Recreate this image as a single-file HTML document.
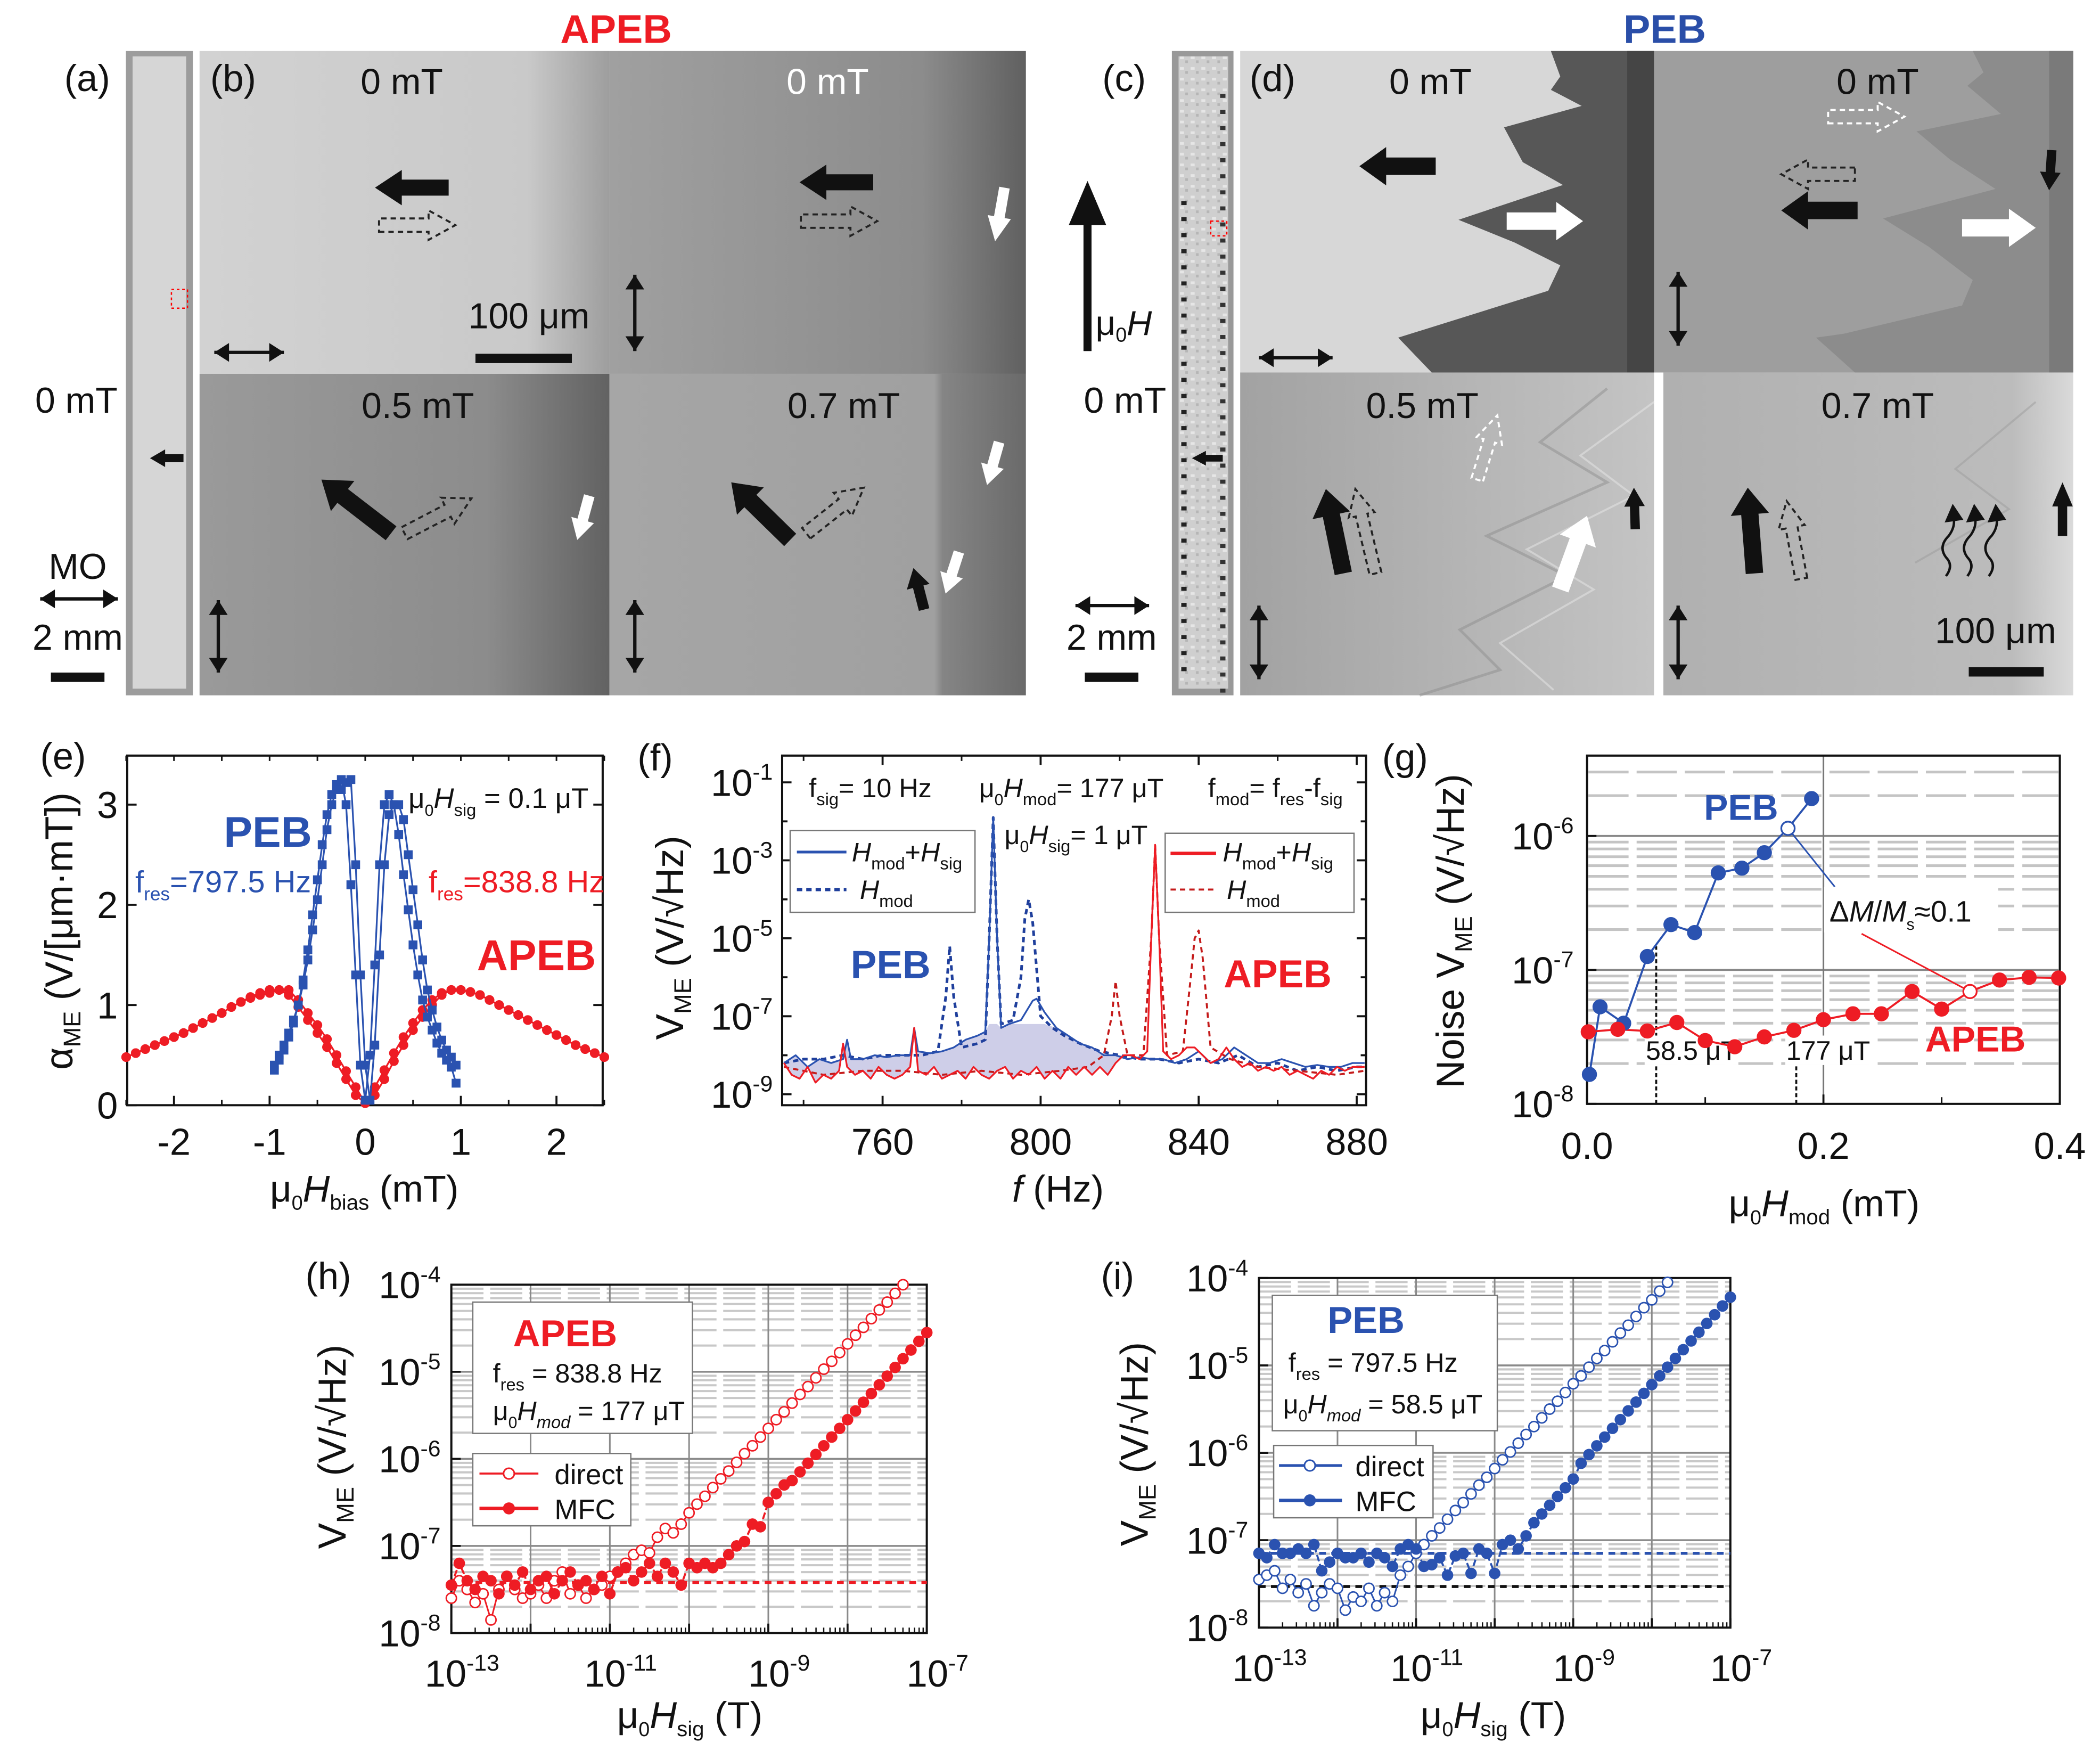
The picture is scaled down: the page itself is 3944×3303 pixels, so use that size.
<!DOCTYPE html>
<html><head><meta charset="utf-8"><style>
html,body{margin:0;padding:0;background:#fff;}
svg{display:block;}
text{font-family:"Liberation Sans",Arial,sans-serif;}
</style></head><body>
<svg id="fig" xmlns="http://www.w3.org/2000/svg" width="3944" height="3303" viewBox="0 0 1568 1313">
<defs>
<linearGradient id="gbTL" x1="0" x2="1"><stop offset="0" stop-color="#d2d2d2"/><stop offset="0.8" stop-color="#c9c9c9"/><stop offset="1" stop-color="#9e9e9e"/></linearGradient>
<linearGradient id="gbTR" x1="0" x2="1"><stop offset="0" stop-color="#a0a0a0"/><stop offset="0.75" stop-color="#8c8c8c"/><stop offset="1" stop-color="#606060"/></linearGradient>
<linearGradient id="gbBL" x1="0" x2="1"><stop offset="0" stop-color="#9a9a9a"/><stop offset="0.7" stop-color="#8c8c8c"/><stop offset="1" stop-color="#626262"/></linearGradient>
<linearGradient id="gbBR" x1="0" x2="1"><stop offset="0" stop-color="#a6a6a6"/><stop offset="0.78" stop-color="#a0a0a0"/><stop offset="0.8" stop-color="#858585"/><stop offset="1" stop-color="#6a6a6a"/></linearGradient>
<linearGradient id="gdBL" x1="0" x2="1"><stop offset="0" stop-color="#a2a2a2"/><stop offset="1" stop-color="#c4c4c4"/></linearGradient>
<linearGradient id="gdBR" x1="0" x2="1"><stop offset="0" stop-color="#b0b0b0"/><stop offset="0.85" stop-color="#bcbcbc"/><stop offset="1" stop-color="#dadada"/></linearGradient>
<pattern id="speck" width="8" height="8" patternUnits="userSpaceOnUse"><rect width="8" height="8" fill="#cfcfcf"/><rect x="1" y="2" width="3" height="2" fill="#e6e6e6"/><rect x="5" y="5" width="2" height="2" fill="#b5b5b5"/></pattern>
</defs>
<g id="top"></g>
<g id="plots"></g>
</svg>
<script>
const NS='http://www.w3.org/2000/svg';
const TOP=document.getElementById('top');
const PL=document.getElementById('plots');
function mk(tag,attrs,parent){const e=document.createElementNS(NS,tag);for(const k in attrs)e.setAttribute(k,attrs[k]);(parent||PL).appendChild(e);return e;}
function tx(x,y,html,size,opts,parent){const o=Object.assign({x:x,y:y,'font-size':size,fill:'#111'},opts||{});const e=mk('text',o,parent);e.innerHTML=html;return e;}

/* ================= DATA ================= */
const eBlueX=[-0.95,-0.9,-0.85,-0.8,-0.75,-0.7,-0.65,-0.6,-0.55,-0.5,-0.45,-0.4,-0.35,-0.3,-0.25,-0.2,-0.15,-0.1,-0.05,0,0.05,0.1,0.15,0.2,0.25,0.3,0.35,0.4,0.45,0.5,0.55,0.6,0.65,0.7,0.75,0.8,0.85,0.9,0.95];
const eBlue1=[0.35,0.45,0.55,0.68,0.82,1.0,1.25,1.55,1.9,2.25,2.6,2.9,3.1,3.2,3.25,3.0,2.2,1.3,0.4,0.05,0.5,1.4,2.4,3.0,3.1,3.0,2.7,2.3,1.95,1.6,1.3,1.05,0.88,0.75,0.62,0.52,0.45,0.38,0.22];
const eBlue2=[0.4,0.5,0.6,0.72,0.85,1.0,1.2,1.45,1.75,2.05,2.4,2.75,3.0,3.15,3.15,3.22,3.25,2.4,1.3,0.4,0.05,0.6,1.5,2.4,2.9,3.0,3.0,2.85,2.5,2.15,1.8,1.45,1.15,0.95,0.78,0.65,0.55,0.48,0.4];
const eRedX=[-2.5,-2.4,-2.3,-2.2,-2.1,-2.0,-1.9,-1.8,-1.7,-1.6,-1.5,-1.4,-1.3,-1.2,-1.1,-1.0,-0.9,-0.8,-0.7,-0.6,-0.5,-0.4,-0.3,-0.2,-0.1,0,0.1,0.2,0.3,0.4,0.5,0.6,0.7,0.8,0.9,1.0,1.1,1.2,1.3,1.4,1.5,1.6,1.7,1.8,1.9,2.0,2.1,2.2,2.3,2.4,2.5];
const eRed1=[0.48,0.52,0.56,0.6,0.64,0.68,0.72,0.77,0.82,0.87,0.92,0.98,1.03,1.08,1.12,1.15,1.15,1.1,0.98,0.85,0.72,0.58,0.42,0.26,0.1,0.02,0.18,0.35,0.52,0.68,0.82,0.95,1.05,1.12,1.15,1.15,1.13,1.1,1.05,1.0,0.95,0.9,0.85,0.8,0.75,0.7,0.65,0.6,0.56,0.52,0.48];
const eRed2=[0.48,0.52,0.56,0.6,0.64,0.68,0.72,0.77,0.82,0.87,0.92,0.98,1.03,1.07,1.1,1.12,1.15,1.15,1.05,0.92,0.8,0.66,0.5,0.34,0.18,0.02,0.1,0.26,0.44,0.6,0.75,0.88,1.0,1.1,1.15,1.15,1.13,1.1,1.05,1.0,0.95,0.9,0.85,0.8,0.75,0.7,0.65,0.6,0.56,0.52,0.48];
const eXTicks=[-2,-1,0,1,2];
const eYTicks=[0,1,2,3];

const fBSfreq=[735,738,741,744,747,750,751,752,755,758,761,764,767,768,769,772,775,778,781,784,786,787,788,789,790,792,795,798,799,801,804,807,810,813,816,819,822,825,828,831,834,837,840,843,846,849,852,855,858,861,864,867,870,873,876,879,882];
const fBSval=[-8.2,-8.0,-8.3,-8.1,-8.2,-8.1,-7.6,-8.1,-8.1,-8.0,-8.05,-8.0,-8.0,-7.3,-7.9,-7.95,-7.9,-7.8,-7.6,-7.5,-7.4,-5.0,-1.9,-5.0,-7.3,-7.2,-7.1,-6.6,-6.55,-6.9,-7.3,-7.5,-7.7,-7.8,-8.0,-8.0,-8.1,-8.05,-8.1,-8.1,-8.2,-8.1,-7.9,-8.2,-8.1,-7.8,-8.0,-8.2,-8.2,-8.1,-8.2,-8.3,-8.25,-8.3,-8.3,-8.2,-8.2];
const fBDfreq=[735,740,745,750,755,760,765,770,774,776,777,778,780,784,786,787,788,789,790,793,795,796,797,798,800,803,806,810,815,820,825,830,835,840,845,850,855,860,865,870,875,880,882];
const fBDval=[-8.2,-8.1,-8.1,-8.0,-8.1,-8.0,-8.0,-8.0,-7.9,-6.5,-5.2,-6.5,-7.8,-7.7,-7.6,-5.0,-1.9,-5.0,-7.2,-7.1,-6.0,-4.5,-4.0,-4.6,-7.0,-7.3,-7.5,-7.7,-7.9,-8.0,-8.1,-8.1,-8.2,-8.1,-8.2,-8.0,-8.3,-8.2,-8.4,-8.3,-8.4,-8.3,-8.3];
const fRSfreq=[735,737,739,741,743,745,747,749,750,751,753,755,757,759,761,763,765,767,768,769,771,773,775,777,779,781,783,785,787,789,791,793,795,797,799,801,803,805,807,809,811,813,815,817,819,821,823,825,827,828,829,830,831,833,835,837,839,841,843,845,847,849,851,853,855,857,859,861,863,865,867,869,871,873,875,877,879,882];
const fRSval=[-8.2,-8.5,-8.6,-8.3,-8.7,-8.5,-8.6,-8.4,-7.7,-8.3,-8.5,-8.4,-8.6,-8.3,-8.5,-8.6,-8.5,-8.3,-7.3,-8.4,-8.5,-8.3,-8.6,-8.5,-8.4,-8.6,-8.3,-8.5,-8.6,-8.4,-8.3,-8.6,-8.4,-8.5,-8.3,-8.6,-8.4,-8.6,-8.3,-8.5,-8.3,-8.5,-8.3,-8.5,-8.2,-8.0,-8.0,-8.1,-7.9,-5.0,-2.6,-5.0,-7.9,-8.1,-8.0,-7.8,-7.8,-8.0,-8.2,-8.1,-7.8,-8.1,-8.3,-8.2,-8.4,-8.3,-8.4,-8.3,-8.5,-8.4,-8.5,-8.6,-8.4,-8.5,-8.3,-8.4,-8.3,-8.3];
const fRDfreq=[735,745,755,765,775,785,795,805,812,816,818,819,820,822,826,828,829,830,832,836,838,839,840,841,843,848,855,865,875,882];
const fRDval=[-8.3,-8.5,-8.4,-8.4,-8.5,-8.4,-8.5,-8.4,-8.3,-8.0,-7.0,-6.1,-7.0,-8.0,-8.0,-5.0,-2.6,-5.0,-8.0,-7.9,-6.0,-5.0,-4.8,-5.5,-7.8,-8.1,-8.3,-8.4,-8.5,-8.4];
const fXTicks=[760,800,840,880];
const fYTicks=[-1,-3,-5,-7,-9];

const gPebX=[0.002,0.011,0.031,0.051,0.071,0.091,0.111,0.131,0.150,0.170,0.190];
const gPebV=[1.66e-8,5.3e-8,4.0e-8,1.26e-7,2.18e-7,1.9e-7,5.3e-7,5.75e-7,7.5e-7,1.14e-6,1.9e-6];
const gApebX=[0.001,0.026,0.051,0.076,0.1,0.125,0.15,0.175,0.2,0.225,0.249,0.275,0.3,0.324,0.349,0.374,0.399];
const gApebV=[3.45e-8,3.6e-8,3.5e-8,4.05e-8,2.97e-8,2.67e-8,3.16e-8,3.54e-8,4.25e-8,4.7e-8,4.7e-8,6.9e-8,5.1e-8,6.9e-8,8.4e-8,8.8e-8,8.7e-8];
const gXTicks=[0.0,0.2,0.4];
const gYTicks=[-8,-7,-6];

const hDirX=[-13,-12.9,-12.8,-12.7,-12.6,-12.5,-12.4,-12.3,-12.2,-12.1,-12,-11.9,-11.8,-11.7,-11.6,-11.5,-11.4,-11.3,-11.2,-11.1,-11,-10.9,-10.8,-10.7,-10.6,-10.5,-10.4,-10.3,-10.2,-10.1,-10,-9.9,-9.8,-9.7,-9.6,-9.5,-9.4,-9.3,-9.2,-9.1,-9,-8.9,-8.8,-8.7,-8.6,-8.5,-8.4,-8.3,-8.2,-8.1,-8,-7.9,-7.8,-7.7,-7.6,-7.5,-7.4,-7.3];
const hDirV=[-7.6,-7.4,-7.5,-7.65,-7.55,-7.85,-7.5,-7.35,-7.5,-7.6,-7.55,-7.45,-7.6,-7.4,-7.3,-7.55,-7.45,-7.6,-7.5,-7.45,-7.35,-7.3,-7.2,-7.1,-7.05,-7.08,-6.9,-6.8,-6.85,-6.75,-6.62,-6.52,-6.43,-6.33,-6.23,-6.14,-6.04,-5.94,-5.85,-5.75,-5.65,-5.55,-5.46,-5.36,-5.26,-5.17,-5.07,-4.97,-4.88,-4.78,-4.68,-4.58,-4.49,-4.39,-4.29,-4.2,-4.1,-4.0];
const hMfcX=[-13,-12.9,-12.8,-12.7,-12.6,-12.5,-12.4,-12.3,-12.2,-12.1,-12,-11.9,-11.8,-11.7,-11.6,-11.5,-11.4,-11.3,-11.2,-11.1,-11,-10.9,-10.8,-10.7,-10.6,-10.5,-10.4,-10.3,-10.2,-10.1,-10,-9.9,-9.8,-9.7,-9.6,-9.5,-9.4,-9.3,-9.2,-9.1,-9,-8.9,-8.8,-8.7,-8.6,-8.5,-8.4,-8.3,-8.2,-8.1,-8,-7.9,-7.8,-7.7,-7.6,-7.5,-7.4,-7.3,-7.2,-7.1,-7];
const hMfcV=[-7.45,-7.2,-7.4,-7.5,-7.35,-7.4,-7.55,-7.35,-7.45,-7.3,-7.5,-7.4,-7.35,-7.55,-7.4,-7.3,-7.45,-7.4,-7.5,-7.35,-7.55,-7.3,-7.25,-7.4,-7.3,-7.2,-7.35,-7.2,-7.3,-7.45,-7.2,-7.25,-7.2,-7.25,-7.2,-7.1,-7.0,-6.95,-6.75,-6.78,-6.5,-6.4,-6.3,-6.25,-6.15,-6.05,-5.95,-5.85,-5.75,-5.65,-5.55,-5.45,-5.35,-5.25,-5.15,-5.05,-4.95,-4.85,-4.75,-4.65,-4.55];
const hNoise=-7.42;

const iDirX=[-13,-12.9,-12.8,-12.7,-12.6,-12.5,-12.4,-12.3,-12.2,-12.1,-12,-11.9,-11.8,-11.7,-11.6,-11.5,-11.4,-11.3,-11.2,-11.1,-11,-10.9,-10.8,-10.7,-10.6,-10.5,-10.4,-10.3,-10.2,-10.1,-10,-9.9,-9.8,-9.7,-9.6,-9.5,-9.4,-9.3,-9.2,-9.1,-9,-8.9,-8.8,-8.7,-8.6,-8.5,-8.4,-8.3,-8.2,-8.1,-8,-7.9,-7.8];
const iDirV=[-7.45,-7.4,-7.35,-7.55,-7.45,-7.6,-7.5,-7.75,-7.6,-7.5,-7.55,-7.8,-7.65,-7.7,-7.55,-7.75,-7.6,-7.7,-7.4,-7.3,-7.15,-7.05,-6.95,-6.86,-6.76,-6.66,-6.57,-6.47,-6.37,-6.28,-6.18,-6.08,-5.99,-5.89,-5.79,-5.7,-5.6,-5.5,-5.41,-5.31,-5.21,-5.12,-5.02,-4.92,-4.83,-4.73,-4.63,-4.54,-4.44,-4.34,-4.25,-4.15,-4.05];
const iMfcX=[-13,-12.9,-12.8,-12.7,-12.6,-12.5,-12.4,-12.3,-12.2,-12.1,-12,-11.9,-11.8,-11.7,-11.6,-11.5,-11.4,-11.3,-11.2,-11.1,-11,-10.9,-10.8,-10.7,-10.6,-10.5,-10.4,-10.3,-10.2,-10.1,-10,-9.9,-9.8,-9.7,-9.6,-9.5,-9.4,-9.3,-9.2,-9.1,-9,-8.9,-8.8,-8.7,-8.6,-8.5,-8.4,-8.3,-8.2,-8.1,-8,-7.9,-7.8,-7.7,-7.6,-7.5,-7.4,-7.3,-7.2,-7.1,-7];
const iMfcV=[-7.15,-7.2,-7.05,-7.15,-7.15,-7.1,-7.15,-7.05,-7.35,-7.25,-7.15,-7.2,-7.2,-7.15,-7.25,-7.15,-7.2,-7.3,-7.1,-7.05,-7.1,-7.3,-7.28,-7.2,-7.4,-7.18,-7.15,-7.38,-7.1,-7.15,-7.38,-7.05,-7.0,-7.1,-6.95,-6.8,-6.7,-6.6,-6.5,-6.4,-6.3,-6.12,-6.02,-5.92,-5.82,-5.72,-5.62,-5.52,-5.42,-5.32,-5.22,-5.12,-5.02,-4.92,-4.82,-4.72,-4.62,-4.52,-4.42,-4.32,-4.22];
const iNoiseBlue=-7.15;
const iNoiseBlack=-7.53;
const logXTicks=[-13,-11,-9,-7];
const logYTicks=[-8,-7,-6,-5,-4];

const xE=v=>272.7+v*71.4, yE=v=>825-v*74.8;
const xF=f=>659+(f-760)*2.95, yF=l=>584-(l+1)*29.1;
const xG=v=>1185+v*882.5, yG=v=>824-(Math.log10(v)+8)*100;
const xH=l=>337+(l+13)*59.17, yH=l=>1219-(l+8)*65;
const xI=l=>940+(l+13)*58.67, yI=l=>1215-(l+8)*65.25;

/* ================= TOP IMAGE PANELS ================= */
(function(){
let el;
function rect(x,y,w,h,fill,name){const r=mk('rect',{x:x,y:y,width:w,height:h,fill:fill},TOP);return r;}
el=tx(460,32,'APEB',30,{fill:'#ee1c24','font-weight':'bold','text-anchor':'middle'},TOP);


el=tx(1243,32,'PEB',30,{fill:'#2a4ea8','font-weight':'bold','text-anchor':'middle'},TOP);


rect(94,38,50,481,'#9c9c9c','mo-strip-a-frame');
rect(99,42,40,472,'#d6d6d6','mo-strip-a');
rect(875,38,46,481,'#999','mo-strip-c-frame');
rect(880,42,37,472,'url(#speck)','mo-strip-c');
for(let k=0;k<30;k++){const d=mk('rect',{x:882,y:150+k*12,width:4,height:3,fill:'#222'},TOP);}
for(let k=0;k<38;k++){const d=mk('rect',{x:911,y:70+k*12,width:4,height:3,fill:'#333'},TOP);}
el=mk('rect',{x:128,y:216,width:12,height:14,fill:'none',stroke:'red','stroke-dasharray':'2 2','stroke-width':1},TOP);


el=mk('rect',{x:904,y:165,width:12,height:11,fill:'none',stroke:'red','stroke-dasharray':'2 2','stroke-width':1},TOP);


rect(149,38,306,241,'url(#gbTL)','image-b-0mT-left');
rect(455,38,311,241,'url(#gbTR)','image-b-0mT-right');
rect(149,279,306,240,'url(#gbBL)','image-b-05mT');
rect(455,279,311,240,'url(#gbBR)','image-b-07mT');
rect(926,38,309,240,'#d7d7d7','image-d-0mT-left');
el=mk('polygon',{points:'1158,38 1165,57 1158,67 1181,79 1123,95 1137,121 1167,138 1089,164 1131,181 1165,198 1156,217 1044,252 1069,278 1235,278 1235,38',fill:'#575757'},TOP);


rect(1215,38,20,240,'#454545','dark-edge-band');
rect(1235,38,313,240,'#9e9e9e','image-d-0mT-right');
el=mk('polygon',{points:'1473,38 1481,54 1469,64 1494,85 1431,98 1456,119 1490,141 1406,163 1440,184 1473,209 1465,228 1377,249 1356,252 1385,278 1548,278 1548,38',fill:'#8c8c8c'},TOP);


rect(1530,38,18,240,'#7a7a7a','edge-band-right');
rect(926,278,309,241,'url(#gdBL)','image-d-05mT');
rect(1242,278,306,241,'url(#gdBR)','image-d-07mT');
el=mk('polyline',{points:'1200,290 1150,330 1200,360 1110,400 1170,430 1090,470 1120,500 1060,519',fill:'none',stroke:'#8a8a8a','stroke-width':2,opacity:0.45},TOP);


el=mk('polyline',{points:'1235,300 1180,340 1220,370 1140,410 1190,440 1120,480 1160,515',fill:'none',stroke:'#e8e8e8','stroke-width':1.5,opacity:0.5},TOP);


el=mk('polyline',{points:'1520,300 1460,350 1500,380 1430,420',fill:'none',stroke:'#9c9c9c','stroke-width':1.5,opacity:0.5},TOP);



const lbls=[['(a)',48,68,'#111','label-a'],['(b)',157,68,'#111','label-b'],['(c)',823,68,'#111','label-c'],['(d)',933,68,'#111','label-d']];
for(const L of lbls){el=tx(L[1],L[2],L[0],28,{fill:L[3]},TOP);}
const fl=[['0 mT',300,70,'#111'],['0 mT',618,70,'#fff'],['0.5 mT',312,312,'#111'],['0.7 mT',630,312,'#111'],['0 mT',1068,70,'#111'],['0 mT',1402,70,'#111'],['0.5 mT',1062,312,'#111'],['0.7 mT',1402,312,'#111'],['0 mT',57,308,'#111'],['0 mT',840,308,'#111']];
for(const L of fl){el=tx(L[1],L[2],L[0],27,{fill:L[3],'text-anchor':'middle'},TOP);}
el=tx(58,432,'MO',27,{'text-anchor':'middle'},TOP);
el=tx(58,485,'2 mm',27,{'text-anchor':'middle'},TOP);
el=tx(830,485,'2 mm',27,{'text-anchor':'middle'},TOP);
el=tx(395,245,'100 μm',27,{'text-anchor':'middle'},TOP);
el=tx(1490,480,'100 μm',27,{'text-anchor':'middle'},TOP);
el=tx(818,250,'μ<tspan font-size="15" dy="5">0</tspan><tspan dy="-5" font-style="italic">H</tspan>',26,{},TOP);
const bars=[[38,502,40],[355,264,72],[810,502,40],[1470,498,56]];
for(const b of bars){el=mk('rect',{x:b[0],y:b[1],width:b[2],height:7,fill:'#111'},TOP);}

function blockArrow(x1,y1,x2,y2,w,fill,stroke,name){
  const dx=x2-x1,dy=y2-y1,L=Math.hypot(dx,dy),ux=dx/L,uy=dy/L,nx=-uy,ny=ux;const hl=Math.min(L*0.45,20),hw=w*1.1;
  const bx=x2-ux*hl,by=y2-uy*hl;
  const p=[[x1+nx*w/2,y1+ny*w/2],[bx+nx*w/2,by+ny*w/2],[bx+nx*hw,by+ny*hw],[x2,y2],[bx-nx*hw,by-ny*hw],[bx-nx*w/2,by-ny*w/2],[x1-nx*w/2,y1-ny*w/2]];
  const a={points:p.map(q=>q[0].toFixed(1)+','+q[1].toFixed(1)).join(' ')};
  if(stroke){a.fill='none';a.stroke=stroke;a['stroke-dasharray']='4 3';a['stroke-width']=1.5;}else{a.fill=fill;}
  const e=mk('polygon',a,TOP);return e;}
function dbl(x1,y1,x2,y2,name){
  const e=mk('line',{x1:x1,y1:y1,x2:x2,y2:y2,stroke:'#111','stroke-width':2.5},TOP);
  const dx=x2-x1,dy=y2-y1,L=Math.hypot(dx,dy),ux=dx/L,uy=dy/L,nx=-uy,ny=ux;
  for(const [px,py,s] of [[x2,y2,1],[x1,y1,-1]]){const bx=px-s*ux*11,by=py-s*uy*11;const h=mk('polygon',{points:`${px},${py} ${bx+nx*7},${by+ny*7} ${bx-nx*7},${by-ny*7}`,fill:'#111'},TOP);}
}
blockArrow(335,140,280,140,12,'#111',null,'magnetization-arrow');
blockArrow(283,168,340,168,10,null,'#222','dashed-arrow');
blockArrow(652,136,597,136,12,'#111',null,'magnetization-arrow');
blockArrow(598,165,655,165,10,null,'#222','dashed-arrow');
blockArrow(750,140,743,180,8,'#fff',null,'white-arrow');
blockArrow(292,398,240,358,13,'#111',null,'magnetization-arrow');
blockArrow(302,398,352,372,10,null,'#222','dashed-arrow');
blockArrow(440,370,431,403,8,'#fff',null,'white-arrow');
blockArrow(590,403,546,360,13,'#111',null,'magnetization-arrow');
blockArrow(602,398,645,364,10,null,'#222','dashed-arrow');
blockArrow(746,330,737,362,8,'#fff',null,'white-arrow');
blockArrow(716,412,706,443,8,'#fff',null,'white-arrow');
blockArrow(690,455,682,424,8,'#111',null,'magnetization-arrow');
blockArrow(137,342,112,342,6,'#111',null,'strip-arrow');
blockArrow(913,342,890,342,5,'#111',null,'strip-arrow');
blockArrow(1072,124,1015,124,13,'#111',null,'magnetization-arrow');
blockArrow(1125,165,1182,165,13,'#fff',null,'white-arrow');
blockArrow(1365,87,1422,87,10,null,'#fff','dashed-arrow-white');
blockArrow(1385,130,1330,130,10,null,'#222','dashed-arrow');
blockArrow(1387,157,1330,157,13,'#111',null,'magnetization-arrow');
blockArrow(1532,112,1530,142,7,'#111',null,'small-arrow');
blockArrow(1465,170,1520,170,13,'#fff',null,'white-arrow');
blockArrow(1003,428,990,365,13,'#111',null,'magnetization-arrow');
blockArrow(1027,428,1012,365,9,null,'#222','dashed-arrow');
blockArrow(1103,358,1118,310,9,null,'#fff','dashed-arrow-white');
blockArrow(1165,440,1185,385,13,'#fff',null,'white-arrow');
blockArrow(1221,395,1220,364,7,'#111',null,'small-arrow');
blockArrow(1310,428,1305,364,13,'#111',null,'magnetization-arrow');
blockArrow(1345,432,1334,374,9,null,'#222','dashed-arrow');
blockArrow(1540,400,1540,360,7,'#111',null,'small-arrow');
for(const dx of [0,16,32]){el=mk('path',{d:`M${1453+dx},${430} q6,-8 0,-14 q-6,-8 2,-16 q6,-8 3,-16`,fill:'none',stroke:'#111','stroke-width':1.8},TOP);
 const h=mk('polygon',{points:`${1458+dx},${376} ${1452+dx},${390} ${1466+dx},${388}`,fill:'#111'},TOP);}
el=mk('line',{x1:812,y1:262,x2:812,y2:165,stroke:'#111','stroke-width':6},TOP);
el=mk('polygon',{points:'812,135 798,168 826,168',fill:'#111'},TOP);
dbl(160,263,212,263,'polarizer-arrow');
dbl(474,205,474,262,'polarizer-arrow');
dbl(163,448,163,502,'polarizer-arrow');
dbl(474,448,474,502,'polarizer-arrow');
dbl(940,267,995,267,'polarizer-arrow');
dbl(1253,203,1253,258,'polarizer-arrow');
dbl(940,452,940,507,'polarizer-arrow');
dbl(1253,452,1253,507,'polarizer-arrow');
dbl(30,447,88,447,'polarizer-arrow');
dbl(803,452,858,452,'polarizer-arrow');
})();

function frame(x1,y1,x2,y2,name){const e=mk('rect',{x:x1,y:y1,width:x2-x1,height:y2-y1,fill:'none',stroke:'#111','stroke-width':1.6});}
function line(x1,y1,x2,y2,st,w,dash,name){const a={x1:x1,y1:y1,x2:x2,y2:y2,stroke:st,'stroke-width':w};if(dash)a['stroke-dasharray']=dash;const e=mk('line',a);return e;}
function poly(pts,st,w,dash,name){const a={points:pts.map(p=>p[0].toFixed(1)+','+p[1].toFixed(1)).join(' '),fill:'none',stroke:st,'stroke-width':w,'stroke-linejoin':'round'};if(dash)a['stroke-dasharray']=dash;const e=mk('polyline',a);return e;}
function pow10(x,y,exp,size,anchor,name){const e=tx(x,y,'10<tspan dy="-'+(size*0.42).toFixed(0)+'" font-size="'+(size*0.62).toFixed(0)+'">'+exp+'</tspan>',size,{'text-anchor':anchor||'end'});return e;}
function label(x,y,html,size,opts,name){const e=tx(x,y,html,size,opts);return e;}
const SUB=(t,s)=>'<tspan dy="6" font-size="'+(s||16)+'">'+t+'</tspan><tspan dy="-6">\u200b</tspan>';

/* ================= (e) ================= */
(function(){
frame(95,564,450,825,'plot-e-frame');
for(const t of eXTicks){line(xE(t),825,xE(t),818,'#111',1.5,null,'x-tick');label(xE(t),862,(t<0?'-':'')+Math.abs(t),28,{'text-anchor':'middle'},'x-tick-label');}
for(let t=-2.5;t<=2.5;t+=0.5){line(xE(t),825,xE(t),821,'#111',1.2,null,'x-minor-tick');line(xE(t),564,xE(t),568,'#111',1.2,null,'x-minor-tick-top');}
for(const t of eYTicks){line(95,yE(t),102,yE(t),'#111',1.5,null,'y-tick');line(450,yE(t),443,yE(t),'#111',1.5,null,'y-tick-right');label(88,yE(t)+10,String(t),28,{'text-anchor':'end'},'y-tick-label');}
label(30,574,'(e)',28,{},'label-e');
label(54,695,'α'+SUB('ME',18)+' (V/[μm·mT])',29,{'text-anchor':'middle',transform:'rotate(-90 54 695)'},'y-axis-title-e');
label(272,897,'μ'+SUB('0',15)+'<tspan font-style="italic">H</tspan>'+SUB('bias',16)+' (mT)',28,{'text-anchor':'middle'},'x-axis-title-e');
const sets=[[eRedX,eRed1,'#ee1c24','red'],[eRedX,eRed2,'#ee1c24','red'],[eBlueX,eBlue1,'#2a52b0','blue'],[eBlueX,eBlue2,'#2a52b0','blue']];
sets.forEach((s,k)=>{
 poly(s[0].map((x,i)=>[xE(x),yE(s[1][i])]),s[2],1.3,null,'series-e-'+s[3]+'-'+k);
 s[0].forEach((x,i)=>{let m;
  if(s[3]==='red'){m=mk('circle',{cx:xE(x),cy:yE(s[1][i]),r:3.6,fill:s[2]});}
  else{m=mk('rect',{x:xE(x)-3.3,y:yE(s[1][i])-3.3,width:6.6,height:6.6,fill:s[2]});}
  
  
 });
});
label(200,632,'PEB',32,{fill:'#2a52b0','font-weight':'bold','text-anchor':'middle'},'peb-label-e');
label(101,666,'f'+SUB('res',14)+'=797.5 Hz',23,{fill:'#2a52b0'},'fres-peb-label');
label(320,666,'f'+SUB('res',14)+'=838.8 Hz',23,{fill:'#ee1c24'},'fres-apeb-label');
label(445,724,'APEB',32,{fill:'#ee1c24','font-weight':'bold','text-anchor':'end'},'apeb-label-e');
label(305,603,'μ'+SUB('0',12)+'<tspan font-style="italic">H</tspan>'+SUB('sig',13)+' = 0.1 μT',21,{},'hsig-label-e');
})();

/* ================= (f) ================= */
(function(){
label(476,575,'(f)',28,{},'label-f');
const top=fBSfreq.filter(f=>f<=821).map((f,i)=>[xF(f),yF(Math.min(fBSval[i],-7.2))]);
const bot=fRSfreq.filter(f=>f<=821).map((f,i)=>[xF(f),yF(fRSval[i])]).reverse();
let el=mk('polygon',{points:top.concat(bot).map(p=>p[0].toFixed(1)+','+p[1].toFixed(1)).join(' '),fill:'#c9c9e6',opacity:0.9});


poly(fBDfreq.map((f,i)=>[xF(f),yF(fBDval[i])]),'#1f3f9c',2,'4 3','series-peb-hmod');
poly(fBSfreq.map((f,i)=>[xF(f),yF(fBSval[i])]),'#2a52b0',1.3,null,'series-peb-hmod-hsig');
poly(fRDfreq.map((f,i)=>[xF(f),yF(fRDval[i])]),'#c41a1a',1.5,'4 3','series-apeb-hmod');
poly(fRSfreq.map((f,i)=>[xF(f),yF(fRSval[i])]),'#ee1c24',1.3,null,'series-apeb-hmod-hsig');
frame(584,564,1020,825,'plot-f-frame');
for(const t of fXTicks){line(xF(t),825,xF(t),818,'#111',1.5,null,'x-tick');line(xF(t),564,xF(t),571,'#111',1.5,null,'x-tick-top');label(xF(t),862,String(t),28,{'text-anchor':'middle'},'x-tick-label');}
for(let t=740;t<=880;t+=20){line(xF(t),825,xF(t),821,'#111',1.2,null,'x-minor-tick');line(xF(t),564,xF(t),568,'#111',1.2,null,'x-minor-tick-top');}
for(let d=-9;d<=-1;d++){const w=(d%2)?7:4;line(584,yF(d),584+w,yF(d),'#111',1.5,null,'y-tick');line(1020,yF(d),1020-w,yF(d),'#111',1.5,null,'y-tick-right');}
for(const t of fYTicks){pow10(577,yF(t)+10,String(t),28,'end','y-tick-label');}
label(510,700,'V'+SUB('ME',18)+' (V/√Hz)',29,{'text-anchor':'middle',transform:'rotate(-90 510 700)'},'y-axis-title-f');
label(790,897,'<tspan font-style="italic">f</tspan> (Hz)',28,{'text-anchor':'middle'},'x-axis-title-f');
label(604,595,'f'+SUB('sig',13)+'= 10 Hz',20,{},'fsig-label');
label(731,595,'μ'+SUB('0',12)+'<tspan font-style="italic">H</tspan>'+SUB('mod',13)+'= 177 μT',20,{},'hmod-label-f');
label(750,630,'μ'+SUB('0',12)+'<tspan font-style="italic">H</tspan>'+SUB('sig',13)+'= 1 μT',20,{},'hsig-label-f');
label(902,595,'f'+SUB('mod',13)+'= f'+SUB('res',13)+'-f'+SUB('sig',13),20,{},'fmod-label');
el=mk('rect',{x:590,y:620,width:138,height:61,fill:'#fff',stroke:'#777','stroke-width':1});
line(595,636,632,636,'#2a52b0',2,null,'legend-line-peb-solid');
line(595,664,632,664,'#1f3f9c',2.5,'4 3','legend-line-peb-dashed');
label(636,643,'<tspan font-style="italic">H</tspan>'+SUB('mod',13)+'+<tspan font-style="italic">H</tspan>'+SUB('sig',13),20,{},'legend-entry-peb-solid');
label(642,671,'<tspan font-style="italic">H</tspan>'+SUB('mod',13),20,{},'legend-entry-peb-dashed');
el=mk('rect',{x:870,y:622,width:141,height:59,fill:'#fff',stroke:'#777','stroke-width':1});
line(874,637,908,637,'#ee1c24',2.5,null,'legend-line-apeb-solid');
line(874,664,908,664,'#c41a1a',1.5,'4 3','legend-line-apeb-dashed');
label(913,643,'<tspan font-style="italic">H</tspan>'+SUB('mod',13)+'+<tspan font-style="italic">H</tspan>'+SUB('sig',13),20,{},'legend-entry-apeb-solid');
label(916,671,'<tspan font-style="italic">H</tspan>'+SUB('mod',13),20,{},'legend-entry-apeb-dashed');
label(665,730,'PEB',29,{fill:'#2a52b0','font-weight':'bold','text-anchor':'middle'},'peb-label-f');
label(954,737,'APEB',29,{fill:'#ee1c24','font-weight':'bold','text-anchor':'middle'},'apeb-label-f');
})();

/* ================= (g) ================= */
(function(){
label(1032,575,'(g)',28,{},'label-g');
for(let d=-8;d<-5;d++){for(let m=2;m<=9;m++){const v=m*Math.pow(10,d);if(yG(v)<564)continue;line(1186,yG(v),1537,yG(v),'#c4c4c4',2,'30 6','y-minor-grid');}}
for(const d of [-7,-6]){line(1186,yG(Math.pow(10,d)),1537,yG(Math.pow(10,d)),'#888',1.5,null,'y-major-grid');}
line(xG(0.2),564,xG(0.2),824,'#777',1.2,null,'x-grid');
frame(1185,564,1538,824,'plot-g-frame');
for(const t of gXTicks){line(xG(t),824,xG(t),817,'#111',1.5,null,'x-tick');label(xG(t),865,t.toFixed(1),28,{'text-anchor':'middle'},'x-tick-label');}
for(const t of [0.1,0.3]){line(xG(t),824,xG(t),819,'#111',1.2,null,'x-minor-tick');}
for(const t of gYTicks){line(1185,yG(Math.pow(10,t)),1192,yG(Math.pow(10,t)),'#111',1.5,null,'y-tick');pow10(1175,yG(Math.pow(10,t))+10,String(t),28,'end','y-tick-label');}
label(1093,695,'Noise V'+SUB('ME',18)+' (V/√Hz)',29,{'text-anchor':'middle',transform:'rotate(-90 1093 695)'},'y-axis-title-g');
label(1362,908,'μ'+SUB('0',15)+'<tspan font-style="italic">H</tspan>'+SUB('mod',16)+' (mT)',28,{'text-anchor':'middle'},'x-axis-title-g');
line(xG(0.0585),824,xG(0.0585),yG(1.5e-7),'#111',1.5,'3 2','marker-58-5');
line(xG(0.177),824,xG(0.177),yG(3.5e-8),'#111',1.5,'3 2','marker-177');
let el=mk('rect',{x:1228,y:773,width:70,height:22,fill:'#fff'});
el=mk('rect',{x:1333,y:773,width:64,height:22,fill:'#fff'});
label(1263,791,'58.5 μT',20,{'text-anchor':'middle'},'label-58-5');
label(1365,791,'177 μT',20,{'text-anchor':'middle'},'label-177');
line(xG(gPebX[9]),yG(gPebV[9]),1370,662,'#2a52b0',1.2,null,'annot-line-peb');
line(xG(gApebX[13]),yG(gApebV[13]),1390,697,'#ee1c24',1.2,null,'annot-line-apeb');
el=mk('rect',{x:1362,y:662,width:130,height:34,fill:'#fff'});
label(1366,688,'Δ<tspan font-style="italic">M</tspan>/<tspan font-style="italic">M</tspan>'+SUB('s',12)+'≈0.1',22,{},'annotation-dm');
poly(gPebX.map((x,i)=>[xG(x),yG(gPebV[i])]),'#2a52b0',1.5,null,'series-g-peb');
poly(gApebX.map((x,i)=>[xG(x),yG(gApebV[i])]),'#ee1c24',1.5,null,'series-g-apeb');
gPebX.forEach((x,i)=>{const open=(i===9);const m=mk('circle',{cx:xG(x),cy:yG(gPebV[i]),r:5,fill:open?'#fff':'#2a52b0',stroke:'#2a52b0','stroke-width':1.3});});
gApebX.forEach((x,i)=>{const open=(i===13);const m=mk('circle',{cx:xG(x),cy:yG(gApebV[i]),r:5,fill:open?'#fff':'#ee1c24',stroke:'#ee1c24','stroke-width':1.3});});
label(1300,612,'PEB',27,{fill:'#2a52b0','font-weight':'bold','text-anchor':'middle'},'peb-label-g');
label(1475,785,'APEB',27,{fill:'#ee1c24','font-weight':'bold','text-anchor':'middle'},'apeb-label-g');
})();

/* ================= (h) and (i) ================= */
function detPanel(o){
 const {X,Y,x1,y1,x2,y2,col,dirX,dirV,mfcX,mfcV,tag}=o;
 for(let d=-8;d<-4;d++){for(let m=2;m<=9;m++){const y=Y(d+Math.log10(m));line(x1,y,x2,y,'#c8c8c8',1.6,'24 5','y-minor-grid');}}
 for(let d=-7;d<=-5;d++){line(x1,Y(d),x2,Y(d),'#8a8a8a',1.4,null,'y-major-grid');}
 for(let d=-12;d<=-8;d++){line(X(d),y1,X(d),y2,'#8a8a8a',1.2,null,'x-major-grid');}
 frame(x1,y1,x2,y2,'plot-'+tag+'-frame');
 for(const t of logXTicks){pow10(X(t)+8,y2+40,String(t),28,'middle','x-tick-label');}
 for(let d=-13;d<=-7;d++){line(X(d),y2,X(d),y2-7,'#111',1.5,null,'x-tick');for(let m=2;m<=9;m++){if(d<-7)line(X(d+Math.log10(m)),y2,X(d+Math.log10(m)),y2-4,'#111',1,null,'x-minor-tick');}}
 for(const t of logYTicks){line(x1,Y(t),x1+7,Y(t),'#111',1.5,null,'y-tick');pow10(x1-8,Y(t)+10,String(t),28,'end','y-tick-label');}
 for(const nl of o.noise){line(x1,Y(nl[0]),x2,Y(nl[0]),nl[1],2.2,'5 4','noise-floor-line');}
 poly(dirX.map((x,i)=>[X(x),Y(dirV[i])]),col,1.2,null,'series-'+tag+'-direct');
 poly(mfcX.map((x,i)=>[X(x),Y(mfcV[i])]),col,1.5,'5 2','series-'+tag+'-mfc');
 dirX.forEach((x,i)=>{const m=mk('circle',{cx:X(x),cy:Y(dirV[i]),r:3.8,fill:'#fff',stroke:col,'stroke-width':1.1});});
 mfcX.forEach((x,i)=>{const m=mk('circle',{cx:X(x),cy:Y(mfcV[i]),r:4.3,fill:col});});
}
(function(){
detPanel({X:xH,Y:yH,x1:337,y1:959,x2:692,y2:1219,col:'#ee1c24',dirX:hDirX,dirV:hDirV,mfcX:hMfcX,mfcV:hMfcV,tag:'h',noise:[[hNoise,'#ee1c24']]});
label(228,962,'(h)',28,{},'label-h');
label(258,1080,'V'+SUB('ME',18)+' (V/√Hz)',29,{'text-anchor':'middle',transform:'rotate(-90 258 1080)'},'y-axis-title-h');
label(515,1290,'μ'+SUB('0',15)+'<tspan font-style="italic">H</tspan>'+SUB('sig',16)+' (T)',28,{'text-anchor':'middle'},'x-axis-title-h');
let el=mk('rect',{x:353,y:972,width:164,height:98,fill:'#fff',stroke:'#777','stroke-width':1});
label(422,1005,'APEB',28,{fill:'#ee1c24','font-weight':'bold','text-anchor':'middle'},'apeb-label-h');
label(368,1032,'f'+SUB('res',13)+' = 838.8 Hz',20,{},'fres-label-h');
label(368,1060,'μ'+SUB('0',12)+'<tspan font-style="italic">H</tspan><tspan dy="6" font-size="13" font-style="italic">mod</tspan><tspan dy="-6"> = 177 μT</tspan>',20,{},'hmod-label-h');
el=mk('rect',{x:353,y:1085,width:118,height:54,fill:'#fff',stroke:'#777','stroke-width':1});
line(358,1100,402,1100,'#ee1c24',1.5,null,'legend-line-direct');
el=mk('circle',{cx:380,cy:1100,r:4,fill:'#fff',stroke:'#ee1c24','stroke-width':1.2});
line(358,1126,402,1126,'#ee1c24',2.5,null,'legend-line-mfc');
el=mk('circle',{cx:380,cy:1126,r:4.5,fill:'#ee1c24'});
label(414,1108,'direct',21,{},'legend-entry-direct');
label(414,1134,'MFC',21,{},'legend-entry-mfc');

detPanel({X:xI,Y:yI,x1:940,y1:954,x2:1292,y2:1215,col:'#2a52b0',dirX:iDirX,dirV:iDirV,mfcX:iMfcX,mfcV:iMfcV,tag:'i',noise:[[iNoiseBlue,'#2a52b0'],[iNoiseBlack,'#111']]});
label(822,962,'(i)',28,{},'label-i');
label(857,1078,'V'+SUB('ME',18)+' (V/√Hz)',29,{'text-anchor':'middle',transform:'rotate(-90 857 1078)'},'y-axis-title-i');
label(1115,1290,'μ'+SUB('0',15)+'<tspan font-style="italic">H</tspan>'+SUB('sig',16)+' (T)',28,{'text-anchor':'middle'},'x-axis-title-i');
el=mk('rect',{x:950,y:967,width:168,height:101,fill:'#fff',stroke:'#777','stroke-width':1});
label(1020,995,'PEB',28,{fill:'#2a52b0','font-weight':'bold','text-anchor':'middle'},'peb-label-i');
label(962,1024,'f'+SUB('res',13)+' = 797.5 Hz',20,{},'fres-label-i');
label(958,1055,'μ'+SUB('0',12)+'<tspan font-style="italic">H</tspan><tspan dy="6" font-size="13" font-style="italic">mod</tspan><tspan dy="-6"> = 58.5 μT</tspan>',20,{},'hmod-label-i');
el=mk('rect',{x:951,y:1079,width:119,height:54,fill:'#fff',stroke:'#777','stroke-width':1});
line(955,1094,1002,1094,'#2a52b0',2,null,'legend-line-direct');
el=mk('circle',{cx:978,cy:1094,r:4,fill:'#fff',stroke:'#2a52b0','stroke-width':1.2});
line(955,1120,1002,1120,'#2a52b0',2.5,null,'legend-line-mfc');
el=mk('circle',{cx:978,cy:1120,r:4.5,fill:'#2a52b0'});
label(1012,1102,'direct',21,{},'legend-entry-direct');
label(1012,1128,'MFC',21,{},'legend-entry-mfc');
})();
</script>
</body></html>
